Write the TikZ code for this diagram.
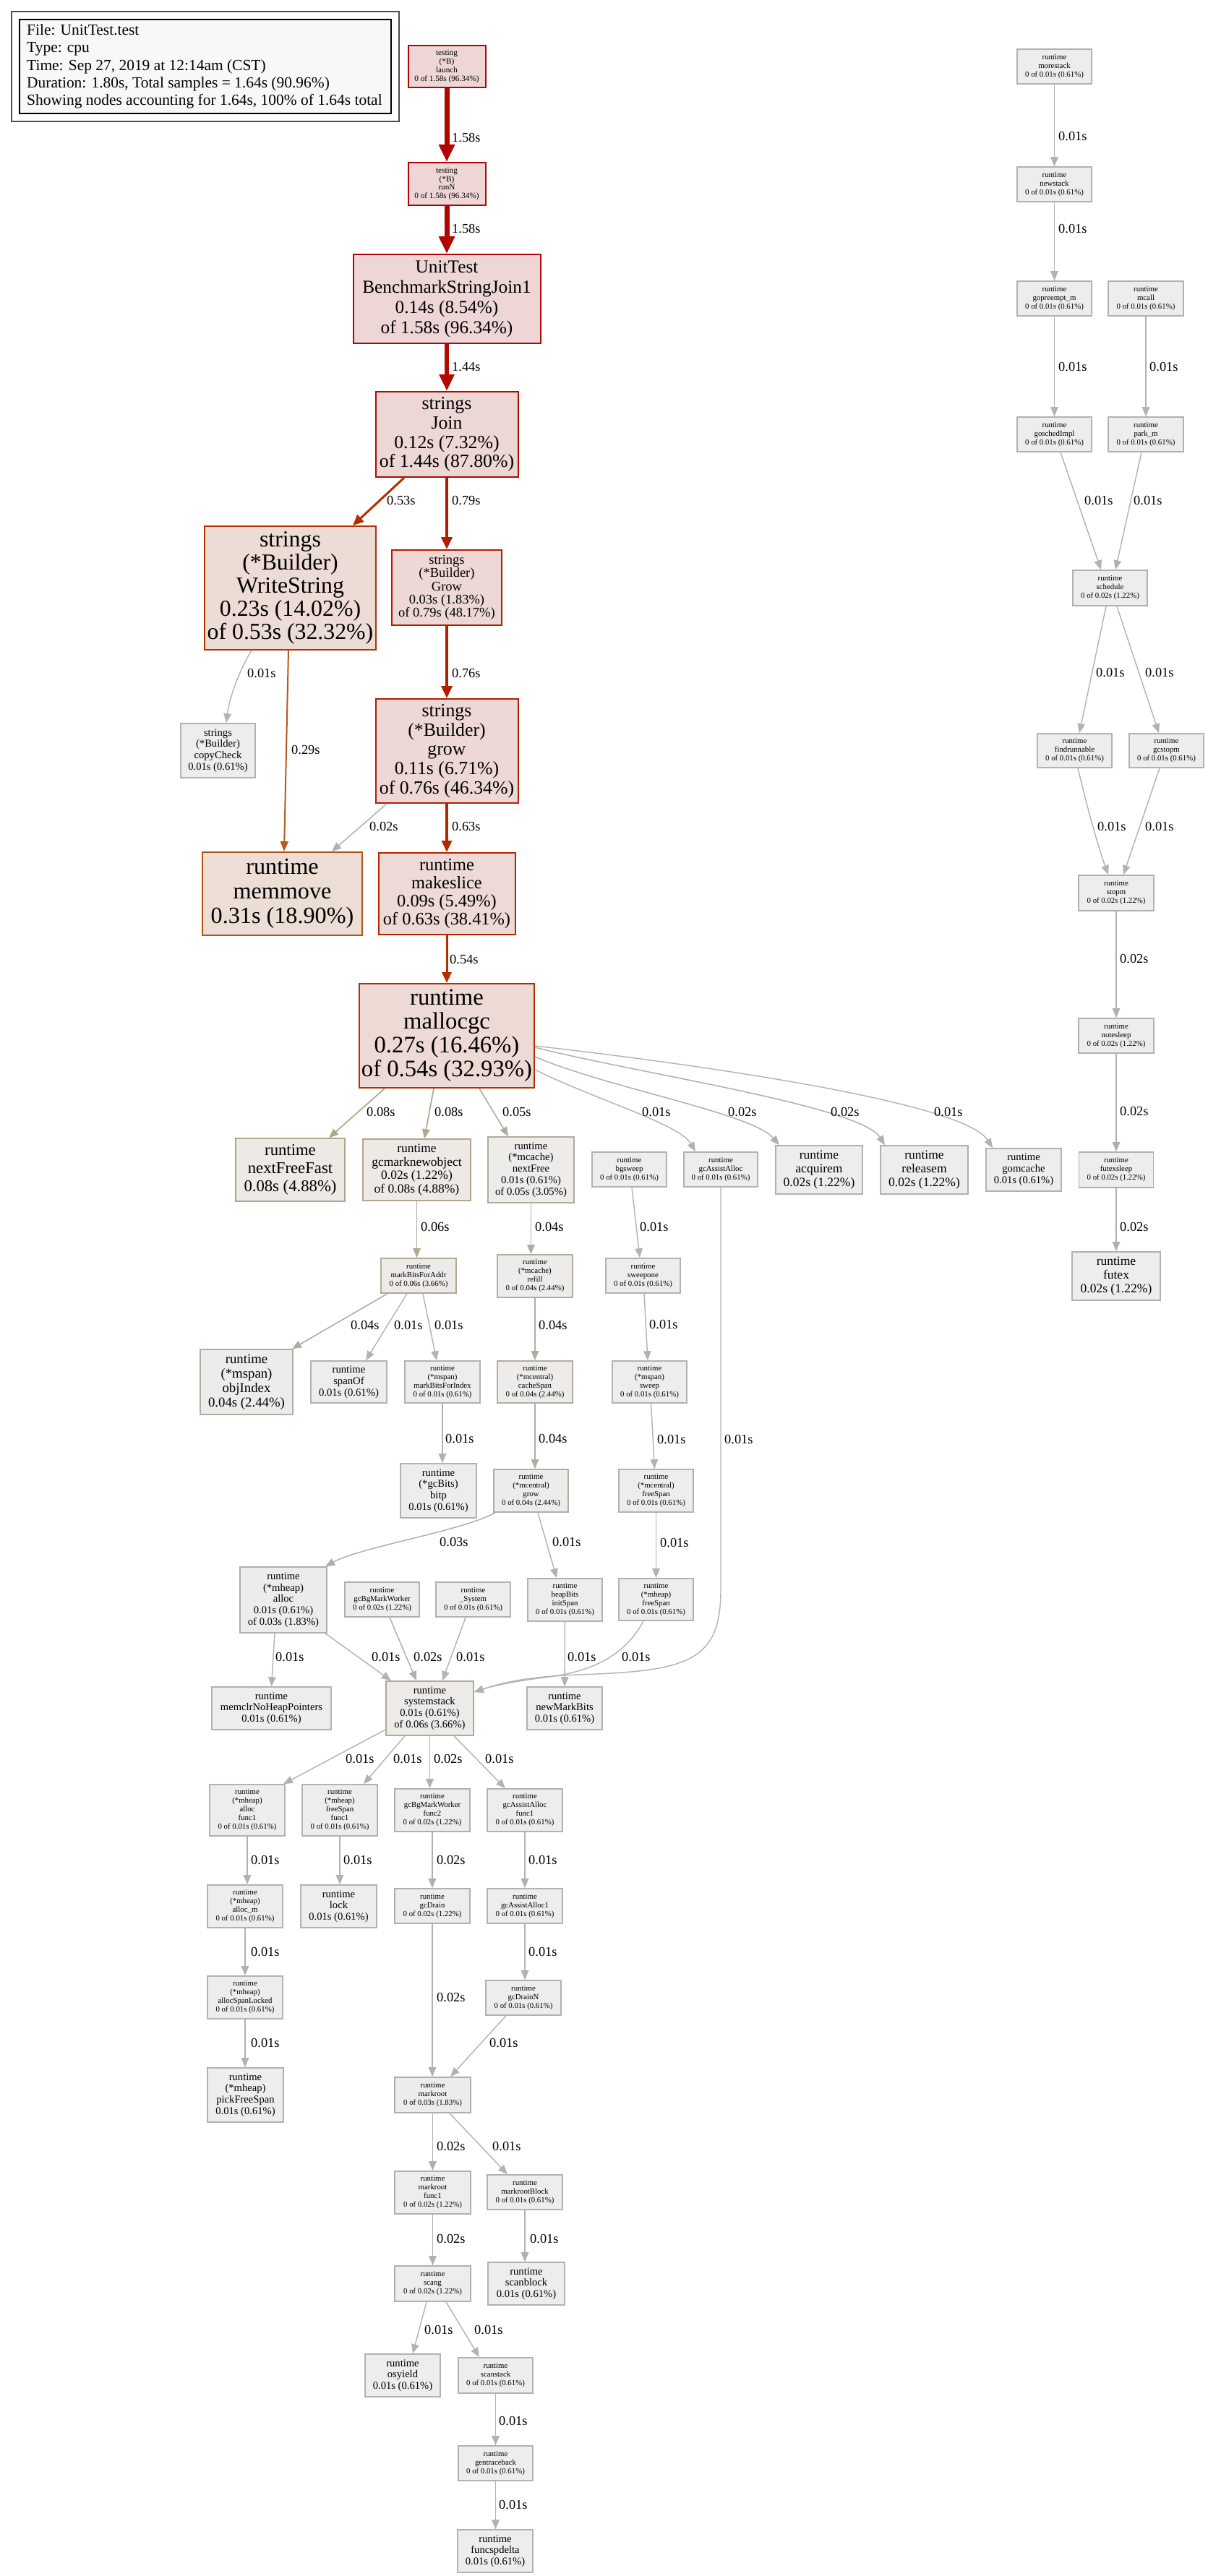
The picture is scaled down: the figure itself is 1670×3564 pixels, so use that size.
\documentclass[tikz,border=0pt]{standalone}
\usepackage{fontspec}
\setmainfont{Liberation Serif}
\usetikzlibrary{arrows.meta}
\definecolor{cH1}{HTML}{B20400}
\definecolor{cH2}{HTML}{B20900}
\definecolor{cR79}{HTML}{B21C00}
\definecolor{cR76}{HTML}{B21E00}
\definecolor{cR63}{HTML}{B22600}
\definecolor{cR54}{HTML}{B22F00}
\definecolor{cR53}{HTML}{B23000}
\definecolor{cO29}{HTML}{B25B1D}
\definecolor{cW}{HTML}{B23300}
\definecolor{cMM}{HTML}{B2531A}
\definecolor{fH}{HTML}{EDD6D5}
\definecolor{fJ}{HTML}{EDD7D5}
\definecolor{fG}{HTML}{EDD8D5}
\definecolor{fW}{HTML}{EDDBD5}
\definecolor{fMM}{HTML}{EDDED5}
\definecolor{fMS}{HTML}{EDD9D5}
\definecolor{fMA}{HTML}{EDDAD5}
\definecolor{cT8}{HTML}{B2A58C}
\definecolor{fT8}{HTML}{EDEAE6}
\definecolor{cT6}{HTML}{B2A995}
\definecolor{fT6}{HTML}{EDEBE8}
\definecolor{cT5}{HTML}{B2AB9C}
\definecolor{fT5}{HTML}{EDECE9}
\definecolor{cT4}{HTML}{B2ADA3}
\definecolor{fT4}{HTML}{EDECEB}
\definecolor{cT3}{HTML}{B2AFA8}
\definecolor{fT3}{HTML}{EDECEC}
\definecolor{cQ2}{HTML}{B2B0AC}
\definecolor{fQ2}{HTML}{EDEDEC}
\definecolor{cQ}{HTML}{B2B2B2}
\definecolor{fQ}{HTML}{EDEDED}
\definecolor{fLg}{HTML}{F8F8F8}
\tikzset{
  bx/.style={draw, rectangle, inner sep=0pt, align=center, line width=1.6pt},
  nH/.style={bx, fill=fH, draw=cH1, line width=2pt},
  nJ/.style={bx, fill=fJ, draw=cH2, line width=2pt},
  nG/.style={bx, fill=fG, draw=cR79, line width=2pt},
  nW/.style={bx, fill=fW, draw=cW, line width=2pt},
  nM/.style={bx, fill=fMM, draw=cMM, line width=2pt},
  nS/.style={bx, fill=fMS, draw=cR63, line width=2pt},
  nA/.style={bx, fill=fMA, draw=cR54, line width=2pt},
  nT8/.style={bx, fill=fT8, draw=cT8},
  nT6/.style={bx, fill=fT6, draw=cT6},
  nT5/.style={bx, fill=fT5, draw=cT5},
  nT4/.style={bx, fill=fT4, draw=cT4},
  nT3/.style={bx, fill=fT3, draw=cT3},
  nQ2/.style={bx, fill=fQ2, draw=cQ2},
  nQ/.style={bx, fill=fQ, draw=cQ},
  fa/.style={font=\fontsize{10.8}{12}\selectfont},
  fn/.style={font=\fontsize{11.2}{11.8}\selectfont},
  fb/.style={font=\fontsize{14.6}{15.8}\selectfont},
  fc/.style={font=\fontsize{17.5}{18.6}\selectfont},
  fd/.style={font=\fontsize{18.8}{20}\selectfont},
  fe/.style={font=\fontsize{22.7}{24.7}\selectfont},
  ff/.style={font=\fontsize{24.4}{25}\selectfont},
  fg/.style={font=\fontsize{25.8}{26.6}\selectfont},
  fh/.style={font=\fontsize{25.3}{28}\selectfont},
  fi/.style={font=\fontsize{31.8}{32}\selectfont},
  fj/.style={font=\fontsize{32.7}{33}\selectfont},
  fk/.style={font=\fontsize{32.2}{34}\selectfont},
  fl/.style={font=\fontsize{18.5}{18.4}\selectfont},
  fp/.style={font=\fontsize{14.7}{15.9}\selectfont},
  lb/.style={font=\fontsize{18.4}{20}\selectfont, inner sep=0pt, anchor=west},
  eH1/.style={draw=cH1, line width=7pt, -{Triangle[length=24pt,width=21pt]}},
  eH2/.style={draw=cH2, line width=6.5pt, -{Triangle[length=23pt,width=20pt]}},
  e79/.style={draw=cR79, line width=3.8pt, -{Triangle[length=17pt,width=15pt]}},
  e76/.style={draw=cR76, line width=3.7pt, -{Triangle[length=17pt,width=15pt]}},
  e63/.style={draw=cR63, line width=3.4pt, -{Triangle[length=16pt,width=14pt]}},
  e54/.style={draw=cR54, line width=3pt, -{Triangle[length=15pt,width=13pt]}},
  e53/.style={draw=cR53, line width=3pt, -{Triangle[length=15pt,width=13pt]}},
  e29/.style={draw=cO29, line width=2pt, -{Triangle[length=14pt,width=11pt]}},
  e08/.style={draw=cT8, line width=1.7pt, -{Triangle[length=13pt,width=10.5pt]}},
  e06/.style={draw=cT6, line width=1.6pt, -{Triangle[length=13pt,width=10.5pt]}},
  e05/.style={draw=cT5, line width=1.6pt, -{Triangle[length=13pt,width=10.5pt]}},
  e04/.style={draw=cT4, line width=1.6pt, -{Triangle[length=13pt,width=10.5pt]}},
  e03/.style={draw=cT3, line width=1.5pt, -{Triangle[length=13pt,width=10.5pt]}},
  e02/.style={draw=cQ2, line width=1.5pt, -{Triangle[length=13pt,width=10.5pt]}},
  e01/.style={draw=cQ, line width=1.4pt, -{Triangle[length=13pt,width=10.5pt]}},
}
\begin{document}
\begin{tikzpicture}[x=1pt,y=-1pt]
\useasboundingbox[fill=white] (0,0) rectangle (1670,3564);
% legend
\draw[line width=1.8pt, draw=black!70] (16,16) rectangle (552,168);
\node[draw=black, line width=1.4pt, fill=fLg, minimum width=514pt, minimum height=130pt, inner sep=0pt] (legendbox) at (284,92) {};
\node[anchor=west, align=left, inner sep=0pt, font=\fontsize{21.45}{24.3}\selectfont] (legend) at (37,92) {File: UnitTest.test\\Type: cpu\\Time: Sep 27, 2019 at 12:14am (CST)\\Duration: 1.80s, Total samples = 1.64s (90.96\%)\\Showing nodes accounting for 1.64s, 100\% of 1.64s total};
% main chain
\node[nH, fn, minimum width=107pt, minimum height=58pt] (launch) at (618,92) {testing\\(*B)\\launch\\0 of 1.58s (96.34\%)};
\node[nH, fn, minimum width=107pt, minimum height=59pt] (runN) at (618,254.5) {testing\\(*B)\\runN\\0 of 1.58s (96.34\%)};
\node[nH, fh, minimum width=259pt, minimum height=123pt] (UnitTest) at (618,413.5) {UnitTest\\BenchmarkStringJoin1\\0.14s (8.54\%)\\of 1.58s (96.34\%)};
\node[nJ, fg, minimum width=197pt, minimum height=118pt] (Join) at (618,601) {strings\\Join\\0.12s (7.32\%)\\of 1.44s (87.80\%)};
\node[nW, fi, minimum width=237pt, minimum height=171pt] (WriteString) at (401.5,813.5) {strings\\(*Builder)\\WriteString\\0.23s (14.02\%)\\of 0.53s (32.32\%)};
\node[nG, fl, minimum width=152pt, minimum height=104pt] (Grow) at (618,813) {strings\\(*Builder)\\Grow\\0.03s (1.83\%)\\of 0.79s (48.17\%)};
\node[nQ, fb, minimum width=103pt, minimum height=75pt] (copyCheck) at (301.5,1038.5) {strings\\(*Builder)\\copyCheck\\0.01s (0.61\%)};
\node[nG, fg, draw=cR76, minimum width=197pt, minimum height=144pt] (grow) at (618,1039) {strings\\(*Builder)\\grow\\0.11s (6.71\%)\\of 0.76s (46.34\%)};
\node[nM, fk, minimum width=221pt, minimum height=115pt] (memmove) at (390.5,1236.5) {runtime\\memmove\\0.31s (18.90\%)};
\node[nS, ff, minimum width=189pt, minimum height=113pt] (makeslice) at (618,1236.5) {runtime\\makeslice\\0.09s (5.49\%)\\of 0.63s (38.41\%)};
\node[nA, fj, minimum width=242pt, minimum height=144pt] (mallocgc) at (618,1433) {runtime\\mallocgc\\0.27s (16.46\%)\\of 0.54s (32.93\%)};
% row 1618
\node[nT8, fe, minimum width=151pt, minimum height=87pt] (nextFreeFast) at (401.5,1618.5) {runtime\\nextFreeFast\\0.08s (4.88\%)};
\node[nT8, fc, minimum width=149pt, minimum height=85pt] (gcmarknewobject) at (576.5,1618.5) {runtime\\gcmarknewobject\\0.02s (1.22\%)\\of 0.08s (4.88\%)};
\node[nT5, fp, minimum width=119pt, minimum height=91pt] (nextFree) at (734.5,1618.5) {runtime\\(*mcache)\\nextFree\\0.01s (0.61\%)\\of 0.05s (3.05\%)};
\node[nQ, fa, minimum width=103pt, minimum height=48pt] (bgsweep) at (870.5,1618) {runtime\\bgsweep\\0 of 0.01s (0.61\%)};
\node[nQ, fa, minimum width=102pt, minimum height=48pt] (gcAssistAlloc) at (997,1618) {runtime\\gcAssistAlloc\\0 of 0.01s (0.61\%)};
\node[nQ2, fc, minimum width=120pt, minimum height=67pt] (acquirem) at (1133,1618.5) {runtime\\acquirem\\0.02s (1.22\%)};
\node[nQ2, fc, minimum width=121pt, minimum height=67pt] (releasem) at (1278.5,1618.5) {runtime\\releasem\\0.02s (1.22\%)};
\node[nQ, fb, minimum width=104pt, minimum height=59pt] (gomcache) at (1416,1618.5) {runtime\\gomcache\\0.01s (0.61\%)};
% row 1765
\node[nT6, fa, minimum width=104pt, minimum height=48pt] (markBitsForAddr) at (579,1765) {runtime\\markBitsForAddr\\0 of 0.06s (3.66\%)};
\node[nT4, fa, minimum width=104pt, minimum height=59pt] (refill) at (740,1765.5) {runtime\\(*mcache)\\refill\\0 of 0.04s (2.44\%)};
\node[nQ, fa, minimum width=103pt, minimum height=48pt] (sweepone) at (889.5,1765) {runtime\\sweepone\\0 of 0.01s (0.61\%)};
% row 1912
\node[nT4, fd, minimum width=128pt, minimum height=90pt] (objIndex) at (341,1912) {runtime\\(*mspan)\\objIndex\\0.04s (2.44\%)};
\node[nQ, fp, minimum width=105pt, minimum height=58pt] (spanOf) at (482.5,1912) {runtime\\spanOf\\0.01s (0.61\%)};
\node[nQ, fa, minimum width=104pt, minimum height=58pt] (markBitsForIndex) at (612,1912) {runtime\\(*mspan)\\markBitsForIndex\\0 of 0.01s (0.61\%)};
\node[nT4, fa, minimum width=104pt, minimum height=58pt] (cacheSpan) at (740,1912) {runtime\\(*mcentral)\\cacheSpan\\0 of 0.04s (2.44\%)};
\node[nQ, fa, minimum width=103pt, minimum height=58pt] (sweep) at (898.5,1912) {runtime\\(*mspan)\\sweep\\0 of 0.01s (0.61\%)};
% row 2062
\node[nQ, fb, minimum width=105pt, minimum height=75pt] (bitp) at (606.5,2062.5) {runtime\\(*gcBits)\\bitp\\0.01s (0.61\%)};
\node[nT4, fa, minimum width=103pt, minimum height=59pt] (mcgrow) at (734.5,2062.5) {runtime\\(*mcentral)\\grow\\0 of 0.04s (2.44\%)};
\node[nQ, fa, minimum width=103pt, minimum height=59pt] (mcfreeSpan) at (907.5,2062.5) {runtime\\(*mcentral)\\freeSpan\\0 of 0.01s (0.61\%)};
% row 2213
\node[nT3, fb, minimum width=120pt, minimum height=91pt] (mhalloc) at (392,2213.5) {runtime\\(*mheap)\\alloc\\0.01s (0.61\%)\\of 0.03s (1.83\%)};
\node[nQ2, fa, minimum width=103pt, minimum height=48pt] (gcBgMarkWorker) at (528.5,2213) {runtime\\gcBgMarkWorker\\0 of 0.02s (1.22\%)};
\node[nQ, fa, minimum width=103pt, minimum height=48pt] (System) at (654.5,2213) {runtime\\\_System\\0 of 0.01s (0.61\%)};
\node[nQ, fa, minimum width=103pt, minimum height=59pt] (initSpan) at (781.5,2213.5) {runtime\\heapBits\\initSpan\\0 of 0.01s (0.61\%)};
\node[nQ, fa, minimum width=103pt, minimum height=58pt] (mhfreeSpan) at (907.5,2213) {runtime\\(*mheap)\\freeSpan\\0 of 0.01s (0.61\%)};
% row 2363
\node[nQ, fb, minimum width=165pt, minimum height=59pt] (memclr) at (375.5,2363.5) {runtime\\memclrNoHeapPointers\\0.01s (0.61\%)};
\node[nT6, fb, minimum width=121pt, minimum height=75pt] (systemstack) at (594.5,2363.5) {runtime\\systemstack\\0.01s (0.61\%)\\of 0.06s (3.66\%)};
\node[nQ, fb, minimum width=104pt, minimum height=59pt] (newMarkBits) at (781,2363.5) {runtime\\newMarkBits\\0.01s (0.61\%)};
% row 2504
\node[nQ, fa, minimum width=104pt, minimum height=71pt] (allocfuncA) at (342,2504.5) {runtime\\(*mheap)\\alloc\\func1\\0 of 0.01s (0.61\%)};
\node[nQ, fa, minimum width=104pt, minimum height=71pt] (freeSpanfuncA) at (470,2504.5) {runtime\\(*mheap)\\freeSpan\\func1\\0 of 0.01s (0.61\%)};
\node[nQ2, fa, minimum width=104pt, minimum height=59pt] (bgmwfunc) at (598,2504.5) {runtime\\gcBgMarkWorker\\func2\\0 of 0.02s (1.22\%)};
\node[nQ, fa, minimum width=104pt, minimum height=59pt] (gaafunc) at (726,2504.5) {runtime\\gcAssistAlloc\\func1\\0 of 0.01s (0.61\%)};
% row 2637
\node[nQ, fa, minimum width=104pt, minimum height=59pt] (allocm) at (339,2637.5) {runtime\\(*mheap)\\alloc\_m\\0 of 0.01s (0.61\%)};
\node[nQ, fb, minimum width=105pt, minimum height=59pt] (lock) at (468.5,2637.5) {runtime\\lock\\0.01s (0.61\%)};
\node[nQ2, fa, minimum width=104pt, minimum height=48pt] (gcDrain) at (598,2637) {runtime\\gcDrain\\0 of 0.02s (1.22\%)};
\node[nQ, fa, minimum width=104pt, minimum height=48pt] (gcAssistAllocB) at (726,2637) {runtime\\gcAssistAlloc1\\0 of 0.01s (0.61\%)};
% row 2763
\node[nQ, fa, minimum width=104pt, minimum height=59pt] (allocSpanLocked) at (339,2763.5) {runtime\\(*mheap)\\allocSpanLocked\\0 of 0.01s (0.61\%)};
\node[nQ, fa, minimum width=104pt, minimum height=48pt] (gcDrainN) at (724,2764) {runtime\\gcDrainN\\0 of 0.01s (0.61\%)};
% lower
\node[nQ, fb, minimum width=105pt, minimum height=75pt] (pickFreeSpan) at (339.5,2898.5) {runtime\\(*mheap)\\pickFreeSpan\\0.01s (0.61\%)};
\node[nT3, fa, minimum width=105pt, minimum height=49pt] (markroot) at (598.5,2898.5) {runtime\\markroot\\0 of 0.03s (1.83\%)};
\node[nQ2, fa, minimum width=105pt, minimum height=59pt] (markrootfunc) at (598.5,3033.5) {runtime\\markroot\\func1\\0 of 0.02s (1.22\%)};
\node[nQ, fa, minimum width=104pt, minimum height=48pt] (markrootBlock) at (726,3033) {runtime\\markrootBlock\\0 of 0.01s (0.61\%)};
\node[nQ2, fa, minimum width=105pt, minimum height=49pt] (scang) at (598.5,3159.5) {runtime\\scang\\0 of 0.02s (1.22\%)};
\node[nQ, fb, minimum width=106pt, minimum height=59pt] (scanblock) at (728,3159.5) {runtime\\scanblock\\0.01s (0.61\%)};
\node[nQ, fb, minimum width=104pt, minimum height=59pt] (osyield) at (557,3286.5) {runtime\\osyield\\0.01s (0.61\%)};
\node[nQ, fa, minimum width=103pt, minimum height=49pt] (scanstack) at (685.5,3286.5) {runtime\\scanstack\\0 of 0.01s (0.61\%)};
\node[nQ, fa, minimum width=103pt, minimum height=48pt] (gentraceback) at (685.5,3408) {runtime\\gentraceback\\0 of 0.01s (0.61\%)};
\node[nQ, fb, minimum width=104pt, minimum height=59pt] (funcspdelta) at (685,3529.5) {runtime\\funcspdelta\\0.01s (0.61\%)};
% right column
\node[nQ, fa, minimum width=103pt, minimum height=48pt] (morestack) at (1458.5,92) {runtime\\morestack\\0 of 0.01s (0.61\%)};
\node[nQ, fa, minimum width=103pt, minimum height=48pt] (newstack) at (1458.5,255) {runtime\\newstack\\0 of 0.01s (0.61\%)};
\node[nQ, fa, minimum width=103pt, minimum height=48pt] (gopreempt) at (1458.5,413) {runtime\\gopreempt\_m\\0 of 0.01s (0.61\%)};
\node[nQ, fa, minimum width=104pt, minimum height=48pt] (mcall) at (1585,413) {runtime\\mcall\\0 of 0.01s (0.61\%)};
\node[nQ, fa, minimum width=103pt, minimum height=48pt] (goschedImpl) at (1458.5,601) {runtime\\goschedImpl\\0 of 0.01s (0.61\%)};
\node[nQ, fa, minimum width=104pt, minimum height=48pt] (parkm) at (1585,601) {runtime\\park\_m\\0 of 0.01s (0.61\%)};
\node[nQ2, fa, minimum width=103pt, minimum height=49pt] (schedule) at (1535.5,813.5) {runtime\\schedule\\0 of 0.02s (1.22\%)};
\node[nQ, fa, minimum width=103pt, minimum height=47pt] (findrunnable) at (1486.5,1038.5) {runtime\\findrunnable\\0 of 0.01s (0.61\%)};
\node[nQ, fa, minimum width=103pt, minimum height=47pt] (gcstopm) at (1613.5,1038.5) {runtime\\gcstopm\\0 of 0.01s (0.61\%)};
\node[nQ2, fa, minimum width=104pt, minimum height=49pt] (stopm) at (1544,1235.5) {runtime\\stopm\\0 of 0.02s (1.22\%)};
\node[nQ2, fa, minimum width=104pt, minimum height=48pt] (notesleep) at (1544,1433) {runtime\\notesleep\\0 of 0.02s (1.22\%)};
\node[nQ2, fa, minimum width=103pt, minimum height=49pt] (futexsleep) at (1544,1618.5) {runtime\\futexsleep\\0 of 0.02s (1.22\%)};
\node[nQ2, fc, minimum width=122pt, minimum height=67pt] (futex) at (1544,1765.5) {runtime\\futex\\0.02s (1.22\%)};
% edges
\draw[eH1] (launch) -- (runN);
\draw[eH1] (runN) -- (UnitTest);
\draw[eH2] (UnitTest) -- (Join);
\draw[e53] ([xshift=-59pt]Join.south) -- ([xshift=86.5pt]WriteString.north);
\draw[e79] (Join) -- (Grow);
\draw[e01] ([xshift=-53.5pt]WriteString.south) .. controls (336,918) and (318,960) .. ([xshift=11.5pt]copyCheck.north);
\draw[e29] ([xshift=-2.5pt]WriteString.south) -- ([xshift=2.5pt]memmove.north);
\draw[e76] (Grow) -- (grow);
\draw[e02] ([xshift=-83pt]grow.south) -- ([xshift=68.5pt]memmove.north);
\draw[e63] (grow) -- (makeslice);
\draw[e54] (makeslice) -- (mallocgc);
\draw[e08] ([xshift=-86pt]mallocgc.south) -- ([xshift=53.5pt]nextFreeFast.north);
\draw[e08] ([xshift=-18pt]mallocgc.south) -- ([xshift=10.5pt]gcmarknewobject.north);
\draw[e05] ([xshift=45pt]mallocgc.south) -- ([xshift=-31.5pt]nextFree.north);
\draw[e01] ([yshift=-47pt]mallocgc.east) .. controls (820,1520) and (940,1555) .. ([xshift=-35pt]gcAssistAlloc.north);
\draw[e02] ([yshift=-29pt]mallocgc.east) .. controls (840,1505) and (1040,1540) .. ([xshift=-55pt]acquirem.north);
\draw[e02] ([yshift=-16pt]mallocgc.east) .. controls (880,1485) and (1190,1530) .. ([xshift=-54.5pt]releasem.north);
\draw[e01] ([yshift=-14pt]mallocgc.east) .. controls (900,1465) and (1330,1520) .. ([xshift=-43pt]gomcache.north);
\draw[e06] (gcmarknewobject.south) -- (gcmarknewobject.south |- markBitsForAddr.north);
\draw[e04] (nextFree.south) -- (nextFree.south |- refill.north);
\draw[e01] ([xshift=3.5pt]bgsweep.south) -- ([xshift=-4.5pt]sweepone.north);
\draw[e04] ([xshift=-43pt]markBitsForAddr.south) -- ([xshift=63pt]objIndex.north);
\draw[e01] ([xshift=-16pt]markBitsForAddr.south) -- ([xshift=23.5pt]spanOf.north);
\draw[e01] ([xshift=6pt]markBitsForAddr.south) -- ([xshift=-8pt]markBitsForIndex.north);
\draw[e04] (refill) -- (cacheSpan);
\draw[e01] ([xshift=1.5pt]sweepone.south) -- ([xshift=-2.5pt]sweep.north);
\draw[e01] (markBitsForIndex.south) -- (markBitsForIndex.south |- bitp.north);
\draw[e04] (cacheSpan.south) -- (cacheSpan.south |- mcgrow.north);
\draw[e01] ([xshift=2pt]sweep.south) -- ([xshift=-2pt]mcfreeSpan.north);
\draw[e01] (gcAssistAlloc.south) -- (997,2200) .. controls (997,2300) and (950,2312) .. (800,2317) .. controls (720,2320) and (690,2330) .. ([yshift=22.5pt]systemstack.east);
\draw[e03] ([xshift=-49.5pt]mcgrow.south) .. controls (640,2118) and (500,2140) .. ([xshift=58pt]mhalloc.north);
\draw[e01] ([xshift=9.5pt]mcgrow.south) -- ([xshift=-11.5pt]initSpan.north);
\draw[e01] (mcfreeSpan) -- (mhfreeSpan);
\draw[e01] ([xshift=-12pt]mhalloc.south) -- (memclr.north);
\draw[e01] ([xshift=58pt]mhalloc.south) -- ([xshift=-53.5pt]systemstack.north);
\draw[e02] ([xshift=10.5pt]gcBgMarkWorker.south) -- ([xshift=-18.5pt]systemstack.north);
\draw[e01] ([xshift=-10.5pt]System.south) -- ([xshift=17.5pt]systemstack.north);
\draw[e01] (initSpan) -- (newMarkBits);
\draw[e01] ([xshift=-17.5pt]mhfreeSpan.south) .. controls (865,2290) and (820,2312) .. (760,2320) .. controls (710,2326) and (680,2333) .. ([yshift=22.5pt]systemstack.east);
\draw[e01] ([yshift=-29.5pt]systemstack.west) -- ([xshift=50pt]allocfuncA.north);
\draw[e01] ([xshift=-34.5pt]systemstack.south) -- ([xshift=33pt]freeSpanfuncA.north);
\draw[e02] (systemstack.south) -- (systemstack.south |- bgmwfunc.north);
\draw[e01] ([xshift=33.5pt]systemstack.south) -- ([xshift=-27pt]gaafunc.north);
\draw[e01] (allocfuncA.south) -- (allocfuncA.south |- allocm.north);
\draw[e01] (freeSpanfuncA.south) -- (freeSpanfuncA.south |- lock.north);
\draw[e02] (bgmwfunc) -- (gcDrain);
\draw[e01] (gaafunc) -- (gcAssistAllocB);
\draw[e01] (allocm) -- (allocSpanLocked);
\draw[e01] (gcAssistAllocB.south) -- (gcAssistAllocB.south |- gcDrainN.north);
\draw[e01] (allocSpanLocked.south) -- (allocSpanLocked.south |- pickFreeSpan.north);
\draw[e02] (gcDrain.south) -- (gcDrain.south |- markroot.north);
\draw[e01] ([xshift=-24pt]gcDrainN.south) -- ([xshift=24.5pt]markroot.north);
\draw[e02] (markroot) -- (markrootfunc);
\draw[e01] ([xshift=23.5pt]markroot.south) -- ([xshift=-24pt]markrootBlock.north);
\draw[e02] (markrootfunc) -- (scang);
\draw[e01] (markrootBlock.south) -- (markrootBlock.south |- scanblock.north);
\draw[e01] ([xshift=-8.5pt]scang.south) -- ([xshift=14pt]osyield.north);
\draw[e01] ([xshift=18.5pt]scang.south) -- ([xshift=-22.5pt]scanstack.north);
\draw[e01] (scanstack) -- (gentraceback);
\draw[e01] (gentraceback.south) -- (gentraceback.south |- funcspdelta.north);
\draw[e01] (morestack) -- (newstack);
\draw[e01] (newstack) -- (gopreempt);
\draw[e01] (gopreempt) -- (goschedImpl);
\draw[e01] (mcall) -- (parkm);
\draw[e01] ([xshift=8.5pt]goschedImpl.south) -- ([xshift=-12.5pt]schedule.north);
\draw[e01] ([xshift=-6pt]parkm.south) -- ([xshift=7.5pt]schedule.north);
\draw[e01] ([xshift=-5.5pt]schedule.south) -- ([xshift=6.5pt]findrunnable.north);
\draw[e01] ([xshift=9.5pt]schedule.south) -- ([xshift=-10.5pt]gcstopm.north);
\draw[e01] ([xshift=4.5pt]findrunnable.south) .. controls (1500,1100) and (1515,1160) .. ([xshift=-11pt]stopm.north);
\draw[e01] ([xshift=-9.5pt]gcstopm.south) -- ([xshift=10pt]stopm.north);
\draw[e02] (stopm) -- (notesleep);
\draw[e02] (notesleep.south) -- (notesleep.south |- futexsleep.north);
\draw[e02] (futexsleep.south) -- (futexsleep.south |- futex.north);
% edge labels
\node[lb] (l1) at (625,191) {1.58s};
\node[lb] (l2) at (625,317) {1.58s};
\node[lb] (l3) at (625,508) {1.44s};
\node[lb] (l4) at (535,693) {0.53s};
\node[lb] (l5) at (625,693) {0.79s};
\node[lb] (l6) at (342,932) {0.01s};
\node[lb] (l7) at (403,1038) {0.29s};
\node[lb] (l8) at (625,932) {0.76s};
\node[lb] (l9) at (511,1144) {0.02s};
\node[lb] (l10) at (625,1144) {0.63s};
\node[lb] (l11) at (622,1327) {0.54s};
\node[lb] (l12) at (507,1538) {0.08s};
\node[lb] (l13) at (601,1538) {0.08s};
\node[lb] (l14) at (695,1538) {0.05s};
\node[lb] (l15) at (888,1538) {0.01s};
\node[lb] (l16) at (1007,1538) {0.02s};
\node[lb] (l17) at (1149,1538) {0.02s};
\node[lb] (l18) at (1292,1538) {0.01s};
\node[lb] (l19) at (582,1697) {0.06s};
\node[lb] (l20) at (740,1697) {0.04s};
\node[lb] (l21) at (885,1697) {0.01s};
\node[lb] (l22) at (485,1833) {0.04s};
\node[lb] (l23) at (545,1833) {0.01s};
\node[lb] (l24) at (601,1833) {0.01s};
\node[lb] (l25) at (745,1833) {0.04s};
\node[lb] (l26) at (898,1832) {0.01s};
\node[lb] (l27) at (616,1990) {0.01s};
\node[lb] (l28) at (745,1990) {0.04s};
\node[lb] (l29) at (909,1991) {0.01s};
\node[lb] (l30) at (1002,1991) {0.01s};
\node[lb] (l31) at (608,2133) {0.03s};
\node[lb] (l32) at (764,2133) {0.01s};
\node[lb] (l33) at (913,2134) {0.01s};
\node[lb] (l34) at (381,2292) {0.01s};
\node[lb] (l35) at (514,2292) {0.01s};
\node[lb] (l36) at (572,2292) {0.02s};
\node[lb] (l37) at (631,2292) {0.01s};
\node[lb] (l38) at (785,2292) {0.01s};
\node[lb] (l39) at (860,2292) {0.01s};
\node[lb] (l40) at (478,2433) {0.01s};
\node[lb] (l41) at (544,2433) {0.01s};
\node[lb] (l42) at (600,2433) {0.02s};
\node[lb] (l43) at (671,2433) {0.01s};
\node[lb] (l44) at (347,2573) {0.01s};
\node[lb] (l45) at (475,2573) {0.01s};
\node[lb] (l46) at (604,2573) {0.02s};
\node[lb] (l47) at (731,2573) {0.01s};
\node[lb] (l48) at (347,2700) {0.01s};
\node[lb] (l49) at (731,2700) {0.01s};
\node[lb] (l50) at (347,2826) {0.01s};
\node[lb] (l51) at (604,2763) {0.02s};
\node[lb] (l52) at (677,2826) {0.01s};
\node[lb] (l53) at (604,2969) {0.02s};
\node[lb] (l54) at (681,2969) {0.01s};
\node[lb] (l55) at (604,3097) {0.02s};
\node[lb] (l56) at (733,3097) {0.01s};
\node[lb] (l57) at (587,3223) {0.01s};
\node[lb] (l58) at (656,3223) {0.01s};
\node[lb] (l59) at (690,3349) {0.01s};
\node[lb] (l60) at (690,3465) {0.01s};
\node[lb] (l61) at (1464,189) {0.01s};
\node[lb] (l62) at (1464,317) {0.01s};
\node[lb] (l63) at (1464,508) {0.01s};
\node[lb] (l64) at (1590,508) {0.01s};
\node[lb] (l65) at (1500,693) {0.01s};
\node[lb] (l66) at (1568,693) {0.01s};
\node[lb] (l67) at (1516,931) {0.01s};
\node[lb] (l68) at (1584,931) {0.01s};
\node[lb] (l69) at (1518,1144) {0.01s};
\node[lb] (l70) at (1584,1144) {0.01s};
\node[lb] (l71) at (1549,1326) {0.02s};
\node[lb] (l72) at (1549,1537) {0.02s};
\node[lb] (l73) at (1549,1697) {0.02s};
\end{tikzpicture}
\end{document}
